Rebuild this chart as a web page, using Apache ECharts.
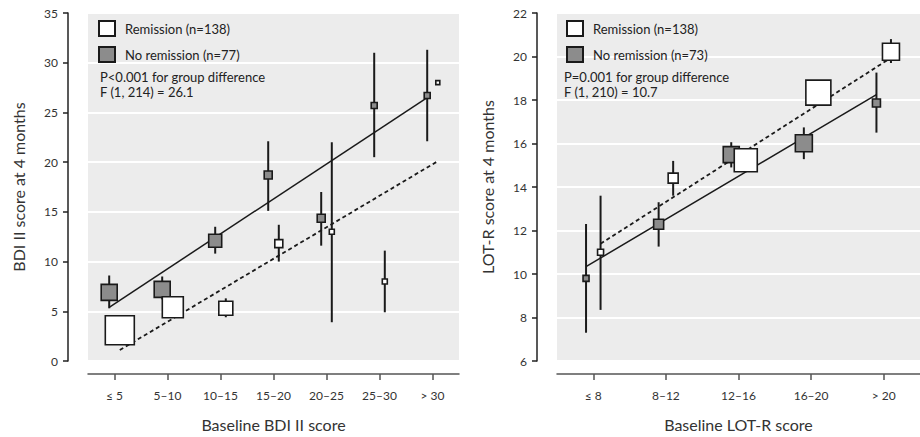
<!DOCTYPE html>
<html>
<head>
<meta charset="utf-8">
<script src="https://cdn.jsdelivr.net/npm/echarts@6/dist/echarts.min.js"></script>
<style>html,body{margin:0;padding:0;background:#fff}#c{width:920px;height:437px}</style>
</head>
<body>
<div id="c"></div>
<script>
// ---------- Data: left panel (BDI II) ----------
const bdiCategories = ['≤ 5', '5–10', '10–15', '15–20', '20–25', '25–30', '> 30'];
const bdiRemMean  = [3.1, 5.4, 5.3, 11.8, 13.0, 8.0, 28.0];
const bdiRemLow   = [2.3, 4.7, 4.4, 10.0, 3.9, 4.9, null];
const bdiRemHigh  = [3.9, 6.1, 6.3, 13.7, 22.0, 11.1, null];
const bdiNoRemMean = [6.9, 7.2, 12.1, 18.7, 14.35, 25.7, 26.7];
const bdiNoRemLow  = [5.3, 6.2, 10.8, 15.1, 11.6, 20.5, 22.1];
const bdiNoRemHigh = [8.6, 8.5, 13.5, 22.1, 17.0, 31.0, 31.3];
const bdiNoRemFit = [5.4, 26.5];   // regression line start/end values
const bdiRemFit   = [1.1, 20.1];
const bdiYTicks = [0, 35, 5];      // min, max, step

// ---------- Data: right panel (LOT-R) ----------
const lotCategories = ['≤ 8', '8–12', '12–16', '16–20', '> 20'];
const lotRemMean  = [11.0, 14.41, 15.23, 18.34, 20.22];
const lotRemLow   = [8.35, 13.6, 14.9, 17.9, 19.7];
const lotRemHigh  = [13.6, 15.2, 15.6, 18.8, 20.8];
const lotNoRemMean = [9.8, 12.29, 15.49, 16.01, 17.86];
const lotNoRemLow  = [7.3, 11.26, 14.9, 15.28, 16.5];
const lotNoRemHigh = [12.3, 13.3, 16.06, 16.74, 19.26];
const lotNoRemFit = [10.34, 18.25];
const lotRemFit   = [11.39, 19.94];
const lotYTicks = [6, 22, 2];

// ---------- Styles (marker sizes reflect group n) ----------
const bdiRemSizes   = [29, 21, 14, 8, 5, 5, 4];
const bdiNoRemSizes = [16, 16, 13, 8, 8, 6, 6];
const lotRemSizes   = [6, 10, 23, 25, 17];
const lotNoRemSizes = [6, 10, 16, 17, 8];
const OFFSET = 0.1;
const FONT = 'Lato';
const GRAY = '#8c8c8c';
const BG = '#ececec';

function pts(means, off) { return means.map((m, i) => [i + off, m]); }
function bars(means, lo, hi, off) {
  const out = [];
  means.forEach((m, i) => { if (lo[i] != null && hi[i] != null) out.push([i + off, lo[i], hi[i]]); });
  return out;
}
function errSeries(data, xi, yi) {
  return {
    type: 'custom', xAxisIndex: xi, yAxisIndex: yi, z: 2, silent: true,
    encode: { x: 0, y: [1, 2] },
    data: data,
    renderItem: function (params, api) {
      const a = api.coord([api.value(0), api.value(1)]);
      const b = api.coord([api.value(0), api.value(2)]);
      return { type: 'line', shape: { x1: a[0], y1: a[1], x2: b[0], y2: b[1] },
               style: { stroke: '#1a1a1a', lineWidth: 2 } };
    }
  };
}
function fitSeries(name, fit, n, off, xi, yi, dashed) {
  return {
    type: 'line', name: name + ' fit', xAxisIndex: xi, yAxisIndex: yi, z: 3, silent: true,
    symbol: 'none', showSymbol: false,
    data: [[0 + off, fit[0]], [n - 1 + off, fit[1]]],
    lineStyle: { color: '#1a1a1a', width: dashed ? 1.8 : 1.5, type: dashed ? [4, 3] : 'solid' }
  };
}
function sqSeries(name, data, sizes, fill, xi, yi, z) {
  return {
    type: 'scatter', name: name, xAxisIndex: xi, yAxisIndex: yi, z: z,
    symbol: 'rect', data: data,
    symbolSize: function (v, p) { return sizes[p.dataIndex]; },
    itemStyle: { color: fill, borderColor: '#1a1a1a', borderWidth: 1.6, opacity: 1 }
  };
}
function xAxisFor(gi, cats, name) {
  const idx = cats.map((c, i) => i);
  return {
    type: 'value', gridIndex: gi, min: -0.5, max: cats.length - 0.5, position: 'bottom', offset: 13,
    name: name, nameLocation: 'middle', nameGap: 42,
    nameTextStyle: { fontFamily: FONT, fontSize: 16, color: '#333' },
    axisLine: { show: true, onZero: false, lineStyle: { color: '#555', width: 1.5 } },
    axisTick: { show: true, customValues: idx, length: 6, lineStyle: { color: '#555', width: 1.5 } },
    axisLabel: { customValues: idx, formatter: function (v) { return cats[Math.round(v)]; },
                 fontFamily: FONT, fontSize: 12, color: '#333', margin: 15 },
    splitLine: { show: false }, splitArea: { show: false }
  };
}
function yAxis(gi, t, name) {
  return {
    type: 'value', gridIndex: gi, min: t[0], max: t[1], interval: t[2], offset: 20,
    position: 'left',
    name: name, nameLocation: 'middle', nameGap: 42,
    nameTextStyle: { fontFamily: FONT, fontSize: 16, color: '#333' },
    axisLine: { show: true, onZero: false, lineStyle: { color: '#222', width: 1.5 } },
    axisTick: { show: true, length: 5, lineStyle: { color: '#222', width: 1.5 } },
    axisLabel: { fontFamily: FONT, fontSize: 12, color: '#333', margin: 10 },
    splitLine: { show: true, lineStyle: { color: '#ffffff', width: 2 } },
    splitArea: { show: true, areaStyle: { color: [BG, BG] } }
  };
}
function legendFor(left, names) {
  return {
    orient: 'vertical', left: left, top: 20, padding: 0, itemGap: 9,
    itemWidth: 16, itemHeight: 15, selectedMode: false,
    textStyle: { fontFamily: FONT, fontSize: 13, color: '#222', padding: [0, 0, 0, 5] },
    data: [
      { name: names[0], icon: 'rect', itemStyle: { color: '#fff', borderColor: '#1a1a1a', borderWidth: 2 } },
      { name: names[1], icon: 'rect', itemStyle: { color: GRAY, borderColor: '#1a1a1a', borderWidth: 2 } }
    ]
  };
}

const remL = 'Remission (n=138)', noRemL = 'No remission (n=77)';
const remR = 'Remission (n=138)', noRemR = 'No remission (n=73)';

const option = {
  animation: false,
  title: [
    { text: 'P<0.001 for group difference\nF (1, 214) = 26.1', left: 100, top: 69, padding: 0,
      textStyle: { fontFamily: FONT, fontSize: 13, fontWeight: 'normal', color: '#222', lineHeight: 15 } },
    { text: 'P=0.001 for group difference\nF (1, 210) = 10.7', left: 564, top: 69, padding: 0,
      textStyle: { fontFamily: FONT, fontSize: 13, fontWeight: 'normal', color: '#222', lineHeight: 15 } }
  ],
  legend: [legendFor(98, [remL, noRemL]), legendFor(566, [remR, noRemR])],
  grid: [
    { left: 88, top: 13, width: 371, height: 350, show: true, backgroundColor: BG, borderWidth: 0 },
    { left: 557, top: 13, width: 370, height: 350, show: true, backgroundColor: BG, borderWidth: 0 }
  ],
  xAxis: [
    xAxisFor(0, bdiCategories, 'Baseline BDI II score'),
    xAxisFor(1, lotCategories, 'Baseline LOT-R score')
  ],
  yAxis: [
    yAxis(0, bdiYTicks, 'BDI II score at 4 months'),
    yAxis(1, lotYTicks, 'LOT-R score at 4 months')
  ],
  series: [
    errSeries(bars(bdiNoRemMean, bdiNoRemLow, bdiNoRemHigh, -OFFSET), 0, 0),
    errSeries(bars(bdiRemMean, bdiRemLow, bdiRemHigh, OFFSET), 0, 0),
    fitSeries(noRemL, bdiNoRemFit, bdiCategories.length, -OFFSET, 0, 0, false),
    fitSeries(remL, bdiRemFit, bdiCategories.length, OFFSET, 0, 0, true),
    sqSeries(noRemL, pts(bdiNoRemMean, -OFFSET), bdiNoRemSizes, GRAY, 0, 0, 4),
    sqSeries(remL, pts(bdiRemMean, OFFSET), bdiRemSizes, '#ffffff', 0, 0, 5),

    errSeries(bars(lotNoRemMean, lotNoRemLow, lotNoRemHigh, -OFFSET), 1, 1),
    errSeries(bars(lotRemMean, lotRemLow, lotRemHigh, OFFSET), 1, 1),
    fitSeries(noRemR, lotNoRemFit, lotCategories.length, -OFFSET, 1, 1, false),
    fitSeries(remR, lotRemFit, lotCategories.length, OFFSET, 1, 1, true),
    sqSeries(noRemR, pts(lotNoRemMean, -OFFSET), lotNoRemSizes, GRAY, 1, 1, 4),
    sqSeries(remR, pts(lotRemMean, OFFSET), lotRemSizes, '#ffffff', 1, 1, 5)
  ]
};

const chart = echarts.init(document.getElementById('c'), null, { renderer: 'svg' });
chart.setOption(option);
</script>
</body>
</html>
